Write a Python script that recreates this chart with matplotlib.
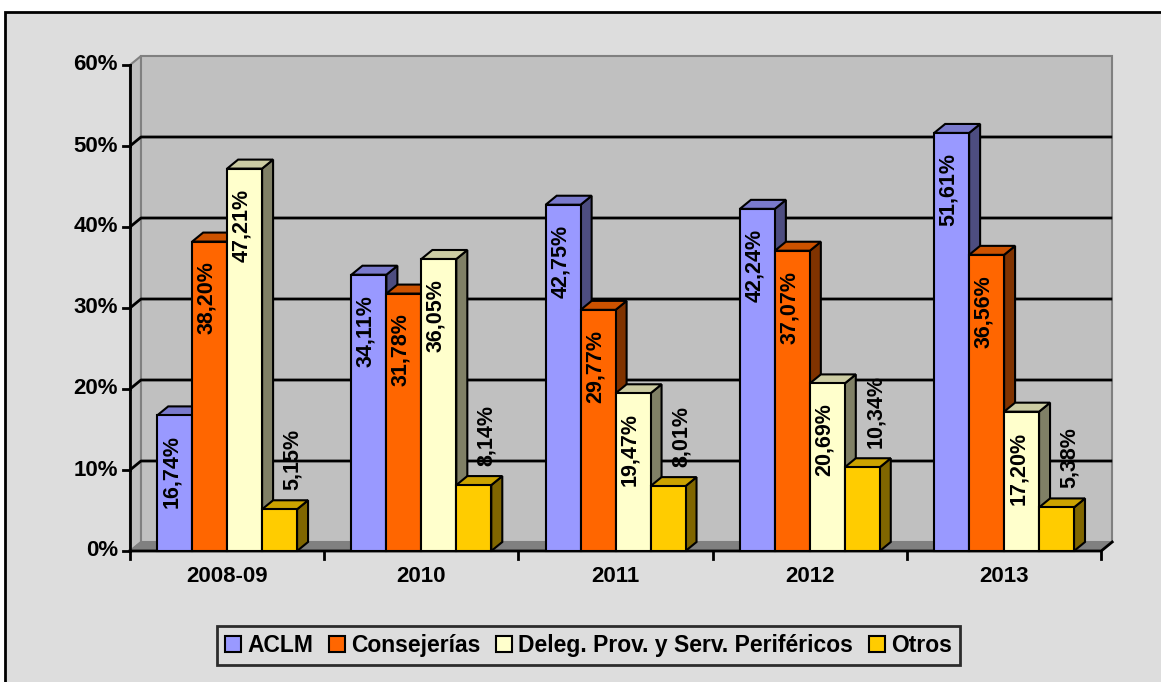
import matplotlib
matplotlib.use('Agg')
import matplotlib.pyplot as plt
from matplotlib.patches import Rectangle, Polygon, Patch

plt.rcParams['font.family'] = ['Liberation Sans', 'DejaVu Sans']
plt.rcParams['font.weight'] = 'bold'

# data
categories = ['2008-09', '2010', '2011', '2012', '2013']
series = ['ACLM', 'Consejerías', 'Deleg. Prov. y Serv. Periféricos', 'Otros']
aclm = [16.74, 34.11, 42.75, 42.24, 51.61]
consejerias = [38.20, 31.78, 29.77, 37.07, 36.56]
deleg = [47.21, 36.05, 19.47, 20.69, 17.20]
otros = [5.15, 8.14, 8.01, 10.34, 5.38]
values = [aclm, consejerias, deleg, otros]
yticks = [0, 10, 20, 30, 40, 50, 60]

# colours: front, top, side
front_c = ['#9999FF', '#FF6600', '#FFFFCC', '#FFCC00']
top_c = ['#7A7ACC', '#CC5200', '#CCCCA3', '#CCA300']
side_c = ['#4D4D80', '#803300', '#808066', '#806600']

W, H = 1161, 682
fig = plt.figure(figsize=(W / 100, H / 100), dpi=100)
fig.patch.set_facecolor('white')
fig.patches.append(Rectangle((5 / W, -0.1), 1.2, 1.1 - 12 / H, transform=fig.transFigure,
                             facecolor='#DDDDDD', edgecolor='black', lw=2, zorder=-5))

# plot area in pixels
x_left, x_right = 130, 1101.2
y_bot, y_top = 551, 65
ax = fig.add_axes([x_left / W, (H - y_bot) / H, (x_right - x_left) / W, (y_bot - y_top) / H])
ax.set_xlim(0, len(categories))
ax.set_ylim(0, 60)
ax.axis('off')

px_x = len(categories) / (x_right - x_left)
px_y = 60 / (y_bot - y_top)
DX, DY = 11 * px_x, 9 * px_y
n = len(categories)

# walls and floor
ax.add_patch(Polygon([(0, 0), (DX, DY), (DX, 60 + DY), (0, 60)], closed=True,
                     facecolor='#C0C0C0', edgecolor='#808080', lw=1.5, zorder=1, clip_on=False))
ax.add_patch(Rectangle((DX, DY), n, 60, facecolor='#C0C0C0', edgecolor='#808080',
                       lw=1.5, zorder=1, clip_on=False))
ax.add_patch(Polygon([(0, 0), (n, 0), (n + DX, DY), (DX, DY)], closed=True,
                     facecolor='#808080', edgecolor='#808080', lw=1, zorder=2, clip_on=False))
for v in yticks[1:-1]:
    ax.plot([0, DX, n + DX], [v, v + DY, v + DY], color='black', lw=2, zorder=2,
            clip_on=False, solid_capstyle='butt')

# axes lines and ticks
ax.plot([0, 0], [0, 60], color='black', lw=2, zorder=3, clip_on=False)
ax.plot([0, n, n + DX], [0, 0, DY], color='black', lw=2, zorder=3, clip_on=False)
for v in yticks:
    ax.plot([-7 * px_x, 0], [v, v], color='black', lw=2, zorder=3, clip_on=False)
    ax.text(-12 * px_x, v, f'{v}%', ha='right', va='center', fontsize=16,
            fontweight='bold')
for i in range(n + 1):
    ax.plot([i, i], [0, -8 * px_y], color='black', lw=2, zorder=3, clip_on=False)
for i, c in enumerate(categories):
    ax.text(i + 0.5, -26 * px_y, c, ha='center', va='center', fontsize=16,
            fontweight='bold')

# bars
bw = 0.18
start = 0.14
z = 10
for i in range(n):
    for j, vals in enumerate(values):
        h = vals[i]
        x0 = start + i + j * bw
        ax.add_patch(Polygon([(x0 + bw, 0), (x0 + bw + DX, DY), (x0 + bw + DX, h + DY), (x0 + bw, h)],
                             closed=True, facecolor=side_c[j], edgecolor='black', lw=1.5,
                             zorder=z, clip_on=False, joinstyle='miter'))
        ax.add_patch(Polygon([(x0, h), (x0 + bw, h), (x0 + bw + DX, h + DY), (x0 + DX, h + DY)],
                             closed=True, facecolor=top_c[j], edgecolor='black', lw=1.5,
                             zorder=z, clip_on=False, joinstyle='miter'))
        ax.add_patch(Rectangle((x0, 0), bw, h, facecolor=front_c[j], edgecolor='black',
                               lw=1.5, zorder=z + 1, clip_on=False, joinstyle='miter'))
        label = f'{h:.2f}%'.replace('.', ',')
        if j == 3:
            ax.annotate(label, (x0 + bw / 2, h), xytext=(13, 19), textcoords='offset pixels',
                        rotation=90, ha='center', va='bottom', fontsize=15.5,
                        fontweight='bold', zorder=50)
        else:
            ax.annotate(label, (x0 + bw / 2, h), xytext=(-3, -20), textcoords='offset pixels',
                        rotation=90, ha='center', va='top', fontsize=15.5,
                        fontweight='bold', zorder=50)
        z += 2

handles = [Patch(facecolor=front_c[j], edgecolor='black', lw=1.5, label=s)
           for j, s in enumerate(series)]
leg = fig.legend(handles=handles, loc='center', ncol=4,
                 bbox_to_anchor=((217 + 960) / 2 / W, 1 - 645.5 / H),
                 prop={'size': 16.5, 'weight': 'bold'}, frameon=True, fancybox=False,
                 handlelength=0.7, handleheight=0.7, handletextpad=0.25,
                 columnspacing=0.7, borderpad=0.35, borderaxespad=0)
leg.get_frame().set_edgecolor('black')
leg.get_frame().set_linewidth(2)
leg.get_frame().set_facecolor('#DDDDDD')

fig.savefig('out.png', dpi=100)
